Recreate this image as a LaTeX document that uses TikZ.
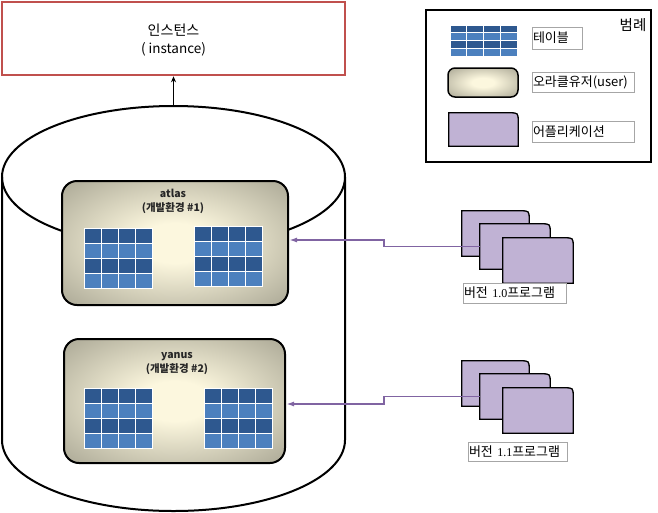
\documentclass[tikz,border=0pt]{standalone}
\usepackage{fontspec}
\setmainfont{Noto Sans CJK KR}
\newfontfamily\numfont{Liberation Serif}
\usetikzlibrary{arrows.meta,calc}
\definecolor{instred}{RGB}{192,80,77}
\definecolor{tdark}{RGB}{46,88,143}
\definecolor{tlight}{RGB}{76,128,190}
\definecolor{appfill}{RGB}{192,178,212}
\definecolor{appline}{RGB}{128,100,162}
\definecolor{envin}{RGB}{252,247,222}
\definecolor{envout}{RGB}{140,138,122}
\definecolor{lblgray}{RGB}{166,166,166}
\pgfdeclareradialshading{envshade}{\pgfpoint{0bp}{0bp}}{color(0bp)=(envin); color(8bp)=(envin); color(46bp)=(envout); color(60bp)=(envout)}
\newcommand\dbtable[4]{%
  \begin{scope}[shift={(#1,#2)},xscale=#3/4,yscale=#4/4]
    \fill[tdark] (0,0) rectangle (4,1);
    \fill[tlight] (0,1) rectangle (4,2);
    \fill[tdark] (0,2) rectangle (4,3);
    \fill[tlight] (0,3) rectangle (4,4);
    \foreach \i in {1,2,3} {\draw[white,line width=1pt] (\i,0) -- (\i,4);
      \draw[white,line width=1pt] (0,\i) -- (4,\i);}
    \draw[white,line width=1pt] (0,0) rectangle (4,4);
  \end{scope}}
\newcommand\drawcard[1]{%
  \draw[cardline] (#1.south west) -- (#1.north west) -- ($(#1.north east)+(-9,0)$)
    .. controls (#1.north east) .. ($(#1.north east)+(0,9)$) -- (#1.south east) -- cycle;}
\begin{document}
\begin{tikzpicture}[x=1pt,y=-1pt,
  instbox/.style={draw=instred,line width=2.5pt,fill=white,minimum width=343pt,minimum height=73pt,inner sep=0pt},
  legbox/.style={draw=black,line width=1.2pt,minimum width=225pt,minimum height=152pt,inner sep=0pt},
  envbox/.style={draw=black,line width=2pt,rounded corners=15pt,shading=envshade,inner sep=0pt},
  envtxt/.style={align=center,font=\fontsize{10.5}{14}\selectfont\bfseries,text=black!85},
  cardnode/.style={inner sep=0pt},
  cardline/.style={draw=black,line width=1.3pt,fill=appfill},
  lblbox/.style={draw=lblgray,line width=0.8pt,fill=white,inner xsep=1pt,inner ysep=0pt,align=left,font=\fontsize{13}{15}\selectfont},
  parrow/.style={draw=appline,line width=1.6pt,-{Latex[length=8pt,width=5pt]}},
  cylline/.style={draw=black,line width=2pt},
]
\useasboundingbox (0,0) rectangle (658,512);
% instance
\node[instbox] (inst) at (173.5,38.5) {};
\node[font=\fontsize{14}{16}\selectfont] (instt1) at (173.5,30) {인스턴스};
\node[font=\fontsize{13.5}{16}\selectfont] (instt2) at (173.5,49) {( instance)};
% cylinder
\draw[cylline] (2,177) -- (2,440) .. controls (2,479.2) and (78.8,511) .. (173.5,511)
  .. controls (268.2,511) and (345,479.2) .. (345,440) -- (345,177);
\draw[cylline] (173.5,177) ellipse [x radius=171.5pt,y radius=71pt];
\coordinate (cyltop) at (173.5,106);
\draw[line width=1.2pt,-{Stealth[length=6pt,width=5pt]}] (cyltop) -- (inst.south);
% environments
\node[envbox,minimum width=226pt,minimum height=124pt] (env1) at (175,243) {};
\node[envtxt] (env1t) at (173,201) {atlas\\(개발환경 \#1)};
\dbtable{84}{228}{68}{60}
\dbtable{194}{226}{68}{60}
\node[envbox,minimum width=221pt,minimum height=124pt] (env2) at (174.5,401) {};
\node[envtxt] (env2t) at (177,364) {yanus\\(개발환경 \#2)};
\dbtable{84}{388}{68}{60}
\dbtable{204}{388}{68}{60}
% legend
\node[legbox] (leg) at (538.5,86) {};
\node[font=\fontsize{14.5}{16}\selectfont] (legt) at (633,25) {범례};
\dbtable{450}{25}{67}{31}
\node[lblbox,text width=48pt,minimum height=22pt] (lt) at (557,38) {테이블};
\node[envbox,rounded corners=7pt,line width=1.5pt,minimum width=70pt,minimum height=29pt] (lu) at (483,82.5) {};
\node[lblbox,text width=100pt,minimum height=20pt] (lut) at (583,82) {오라클유저(user)};
\node[cardnode,minimum width=69pt,minimum height=33pt] (la) at (483.5,129.5) {};
\drawcard{la}
\node[lblbox,text width=100pt,minimum height=21pt] (lat) at (583,131.5) {어플리케이션};
% application stack 1
\node[cardnode,minimum width=67pt,minimum height=45pt] (app1a) at (495.5,233.5) {};
\drawcard{app1a}
\node[cardnode,minimum width=70pt,minimum height=45pt] (app1b) at (515,246.5) {};
\drawcard{app1b}
\node[cardnode,minimum width=70pt,minimum height=45pt] (app1c) at (538,260.5) {};
\drawcard{app1c}
\node[lblbox,text width=101pt,minimum height=20pt] (app1t) at (514.5,293) {버전 {\numfont\fontsize{12}{14}\selectfont 1.0}프로그램};
% application stack 2
\node[cardnode,minimum width=67pt,minimum height=45pt] (app2a) at (495.5,383.5) {};
\drawcard{app2a}
\node[cardnode,minimum width=70pt,minimum height=45pt] (app2b) at (515,396.5) {};
\drawcard{app2b}
\node[cardnode,minimum width=70pt,minimum height=45pt] (app2c) at (538,410.5) {};
\drawcard{app2c}
\node[lblbox,text width=97pt,minimum height=19pt] (app2t) at (517.5,452) {버전 {\numfont\fontsize{12}{14}\selectfont 1.1}프로그램};
% connectors
\draw[parrow] (app1b.west) -- ++(-96,0) -- ++(0,-6.5) coordinate (j1) -- (j1 -| env1.east);
\draw[parrow] (app2b.west) -- ++(-96,0) -- ++(0,7.5) coordinate (j2) -- (j2 -| env2.east);
\end{tikzpicture}
\end{document}
